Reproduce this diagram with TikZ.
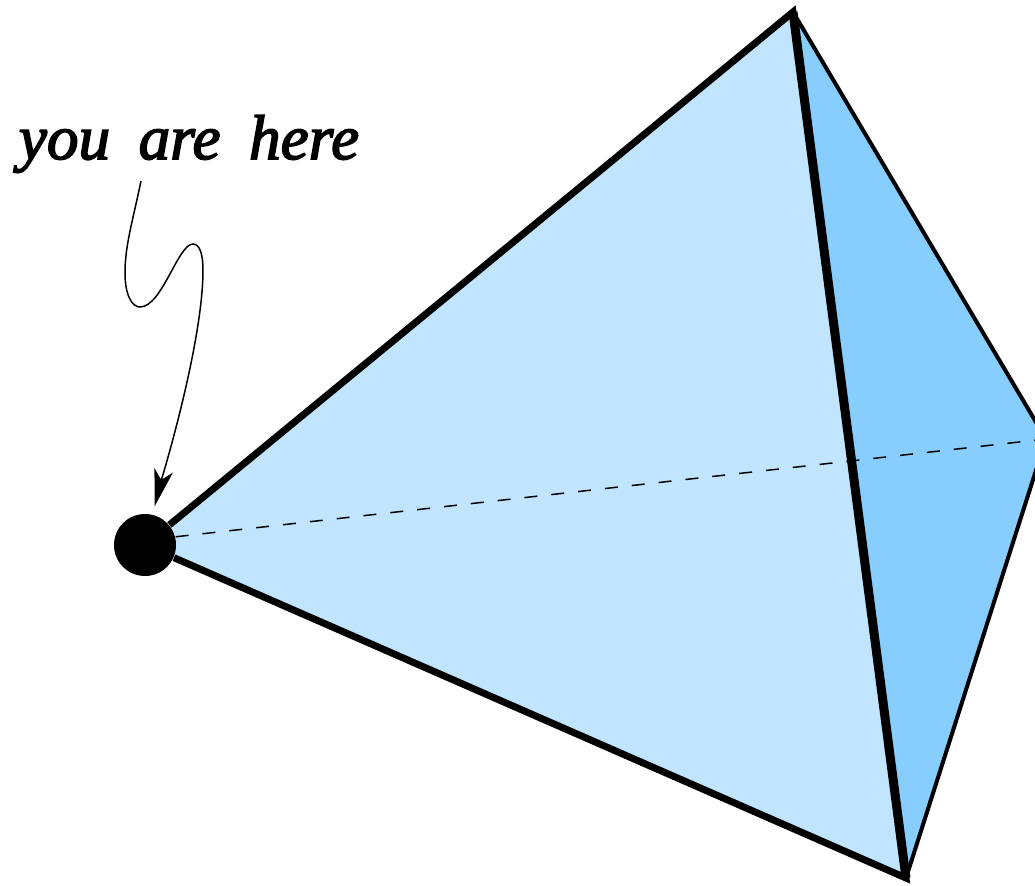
\documentclass[tikz,border=0pt]{standalone}
\usepackage{fontspec}
\usepackage{xcolor}
\usepackage{tikz}
\usetikzlibrary{arrows.meta}
\newfontfamily\handfont[ItalicFeatures={FakeBold=2.5, WordSpace=1.8}]{Liberation Serif}
\definecolor{facelight}{HTML}{C2E5FF}
\definecolor{facedark}{HTML}{87CEFF}

\begin{document}
\begin{tikzpicture}[
  vertexdot/.style={circle, fill=black, inner sep=0pt, minimum size=0.62cm},
  handtext/.style={font=\fontsize{18}{22}\selectfont\handfont\itshape, inner sep=0pt},
  heavyedge/.style={draw, line width=0.07cm, miter limit=20},
  frontedge/.style={draw, line width=0.09cm},
  lightedge/.style={draw, line width=0.04cm},
  hidden/.style={draw, line width=0.015cm, dash pattern=on 0.13cm off 0.14cm},
  pointer/.style={draw, line width=0.015cm, -{Stealth[length=0.37cm, width=0.19cm, inset=0.1cm]}, shorten >=0.40cm}
]
  \useasboundingbox (0,0) rectangle (10.35,8.85);
  \clip (0,0) rectangle (10.35,8.85);

  \coordinate (top) at (7.93,8.73);
  \coordinate (bottom) at (9.06,0.07);
  \coordinate (right) at (10.46,4.46);
  \coordinate (apex) at (1.45,3.40);
  \coordinate (start) at (1.41,7.04);

  \fill[facedark] (top) -- (right) -- (bottom) -- cycle;
  \fill[facelight] (apex) -- (top) -- (bottom) -- cycle;

  \node[vertexdot] (left) at (apex) {};

  \path[hidden] (left.15) -- (right);
  \path[lightedge] (top) -- (right) -- (bottom);
  \path[heavyedge] (left) -- (top) -- (bottom) -- (left);
  \path[frontedge] (top) -- (bottom);

  \node[handtext] (label) at (1.89,7.41) {you are here};

  \path[pointer] (start) .. controls (1.33,6.65) and (1.25,6.40) .. (1.25,6.12)
    .. controls (1.25,5.90) and (1.32,5.78) .. (1.40,5.78)
    .. controls (1.62,5.78) and (1.78,6.41) .. (1.93,6.41)
    .. controls (2.00,6.41) and (2.03,6.30) .. (2.03,6.15)
    .. controls (2.03,5.40) and (1.60,4.00) .. (left.center);
\end{tikzpicture}
\end{document}
